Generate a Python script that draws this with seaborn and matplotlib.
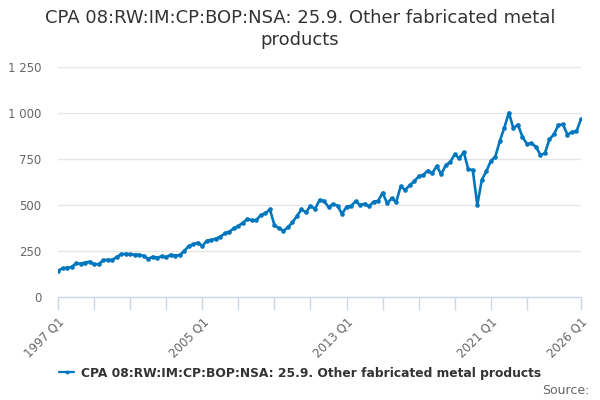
import numpy as np
import pandas as pd
import matplotlib
matplotlib.use("Agg")
import matplotlib.pyplot as plt
import seaborn as sns

sns.set_theme(style="white")
plt.rcParams["font.family"] = ["DejaVu Sans"]

title = "CPA 08:RW:IM:CP:BOP:NSA: 25.9. Other fabricated metal products"
start_year = 1997
values = [
    143, 156, 159, 163, 183, 181, 187, 192, 178, 178, 199, 203, 201, 217, 232, 235,
    232, 230, 230, 223, 207, 219, 214, 221, 216, 230, 225, 228, 250, 277, 286, 295,
    277, 306, 310, 317, 328, 346, 355, 373, 386, 404, 424, 417, 418, 446, 455, 476,
    391, 373, 360, 379, 406, 440, 476, 460, 496, 478, 527, 522, 489, 505, 496, 451,
    491, 495, 520, 500, 507, 493, 518, 522, 567, 509, 536, 516, 601, 582, 607, 629,
    655, 663, 687, 672, 712, 667, 716, 734, 775, 754, 788, 694, 690, 500, 636, 683,
    739, 763, 848, 920, 1002, 917, 937, 871, 832, 835, 817, 772, 781, 857, 884, 935,
    938, 882, 897, 900, 967,
]
quarters = [f"{start_year + i // 4} Q{i % 4 + 1}" for i in range(len(values))]
label_quarters = ["1997 Q1", "2005 Q1", "2013 Q1", "2021 Q1", "2026 Q1"]
y_ticks = [0, 250, 500, 750, 1000, 1250]

df = pd.DataFrame({"idx": np.arange(len(values)), "quarter": quarters, "value": values})

blue = "#0076bf"
fig = plt.figure(figsize=(6, 4), dpi=100)
ax = fig.add_axes([0.0967, 0.2575, 0.8716, 0.575])

sns.lineplot(data=df, x="idx", y="value", ax=ax, color=blue, linewidth=1.9,
             marker="o", markersize=3.3, markeredgewidth=0, label=title)

ax.set_xlim(0, len(values) - 1)
ax.set_ylim(0, 1250)
ax.set_yticks(y_ticks)
ax.set_yticklabels([f"{v:,}".replace(",", " ") for v in y_ticks])
ax.yaxis.grid(True, color="#e6e6e6", linewidth=1)
ax.set_axisbelow(True)

label_pos = [quarters.index(q) for q in label_quarters]
minor_pos = [i for i in range(0, len(values), 8) if i not in label_pos and i < len(values) - 8]
ax.set_xticks(label_pos)
ax.set_xticklabels(label_quarters, rotation=45, ha="right", rotation_mode="anchor")
ax.set_xticks(minor_pos, minor=True)
ax.tick_params(axis="x", which="both", length=9, color="#ccd6eb", width=1,
               labelsize=8.5, labelcolor="#666666", pad=4, direction="out", bottom=True)
ax.tick_params(axis="y", length=0, labelsize=8.5, labelcolor="#666666", pad=12)

for s in ["top", "right", "left"]:
    ax.spines[s].set_visible(False)
ax.spines["bottom"].set_color("#ccd6eb")
ax.spines["bottom"].set_linewidth(1)
ax.set_xlabel("")
ax.set_ylabel("")

fig.text(0.5, 0.955, "CPA 08:RW:IM:CP:BOP:NSA: 25.9. Other fabricated metal", ha="center",
         va="center", fontsize=13, color="#333333")
fig.text(0.5, 0.9, "products", ha="center", va="center", fontsize=13, color="#333333")

leg = ax.legend(loc="center", bbox_to_anchor=(0.5, 0.067), bbox_transform=fig.transFigure,
                frameon=False, handlelength=1.25, handletextpad=0.55,
                prop={"size": 8.8, "weight": "bold"})
for t in leg.get_texts():
    t.set_color("#333333")
for h in leg.legend_handles:
    h.set_linewidth(1.6)
    h.set_markersize(2.8)

fig.text(0.982, 0.025, "Source:", ha="right", va="center", fontsize=9, color="#666666")

fig.savefig("out.png", dpi=100)
